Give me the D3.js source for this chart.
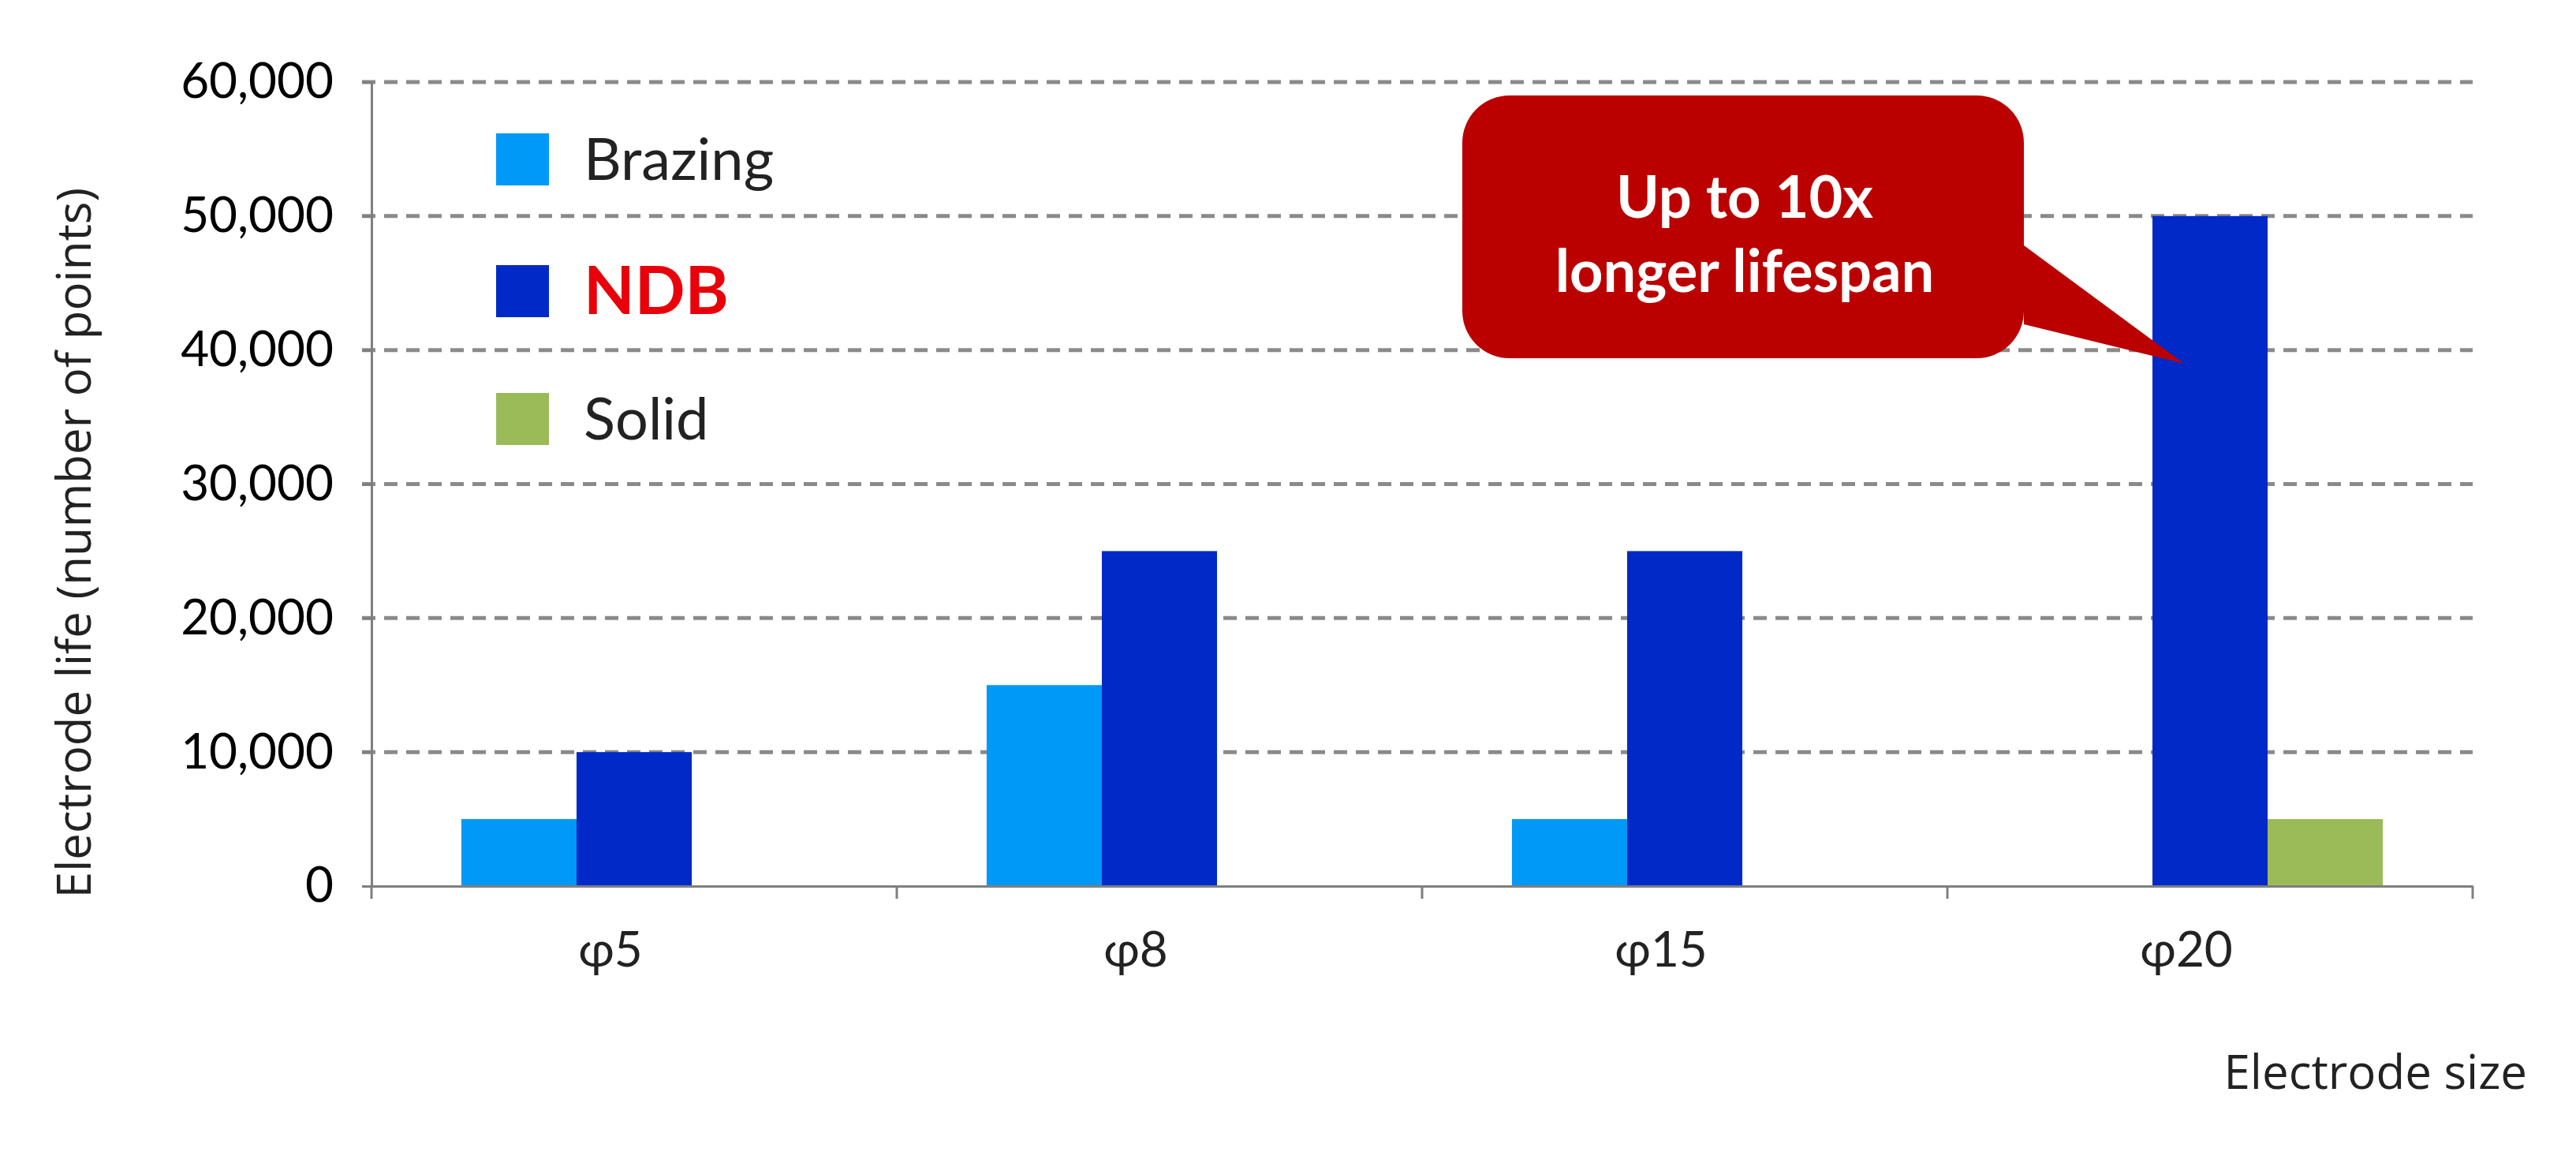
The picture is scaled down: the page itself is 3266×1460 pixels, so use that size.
<!DOCTYPE html>
<html><head><meta charset="utf-8">
<script src="https://cdn.jsdelivr.net/npm/d3@7"></script>
<style>body{margin:0;background:#fff}</style>
</head><body>
<svg id="chart" width="3266" height="1460"></svg>
<script>
// data
const sizes = ["φ5", "φ8", "φ15", "φ20"];
const seriesNames = ["Brazing", "NDB", "Solid"];
const brazing = [5000, 15000, 5000, 0];
const ndb = [10000, 25000, 25000, 50000];
const solid = [0, 0, 0, 5000];
const yTicks = [0, 10000, 20000, 30000, 40000, 50000, 60000];
const colors = ["#0099f7", "#0029c8", "#9bbb59"];

const svg = d3.select("#chart");
const plotLeft = 471, plotRight = 3135, plotTop = 104, plotBottom = 1123;

const x = d3.scaleBand().domain(sizes).range([plotLeft, plotRight]).paddingInner(0).paddingOuter(0);
const xs = d3.scaleBand().domain(seriesNames).range([0, x.bandwidth()]).paddingInner(0).paddingOuter(0.78);
const y = d3.scaleLinear().domain([0, 60000]).range([plotBottom, plotTop]);

// grid lines
svg.append("g").selectAll("line").data(yTicks.filter(d => d > 0)).join("line")
  .attr("x1", plotLeft - 12).attr("x2", plotRight)
  .attr("y1", d => y(d)).attr("y2", d => y(d))
  .attr("stroke", "#8a8a8a").attr("stroke-width", 5).attr("stroke-dasharray", "17,11");

// bars
const rows = sizes.map((s, i) => ({size: s, vals: [brazing[i], ndb[i], solid[i]]}));
const g = svg.append("g").selectAll("g").data(rows).join("g")
  .attr("transform", d => `translate(${x(d.size)},0)`);
g.selectAll("rect").data(d => d.vals.map((v, j) => ({v, name: seriesNames[j], j})))
  .join("rect")
  .attr("x", d => xs(d.name)).attr("width", xs.bandwidth())
  .attr("y", d => y(d.v)).attr("height", d => plotBottom - y(d.v))
  .attr("fill", d => colors[d.j]);

// y axis
const ya = svg.append("g").attr("transform", `translate(${plotLeft},0)`)
  .call(d3.axisLeft(y).tickValues(yTicks).tickFormat(d3.format(",")).tickSize(12).tickPadding(36));
ya.select(".domain").attr("stroke", "#7f7f7f").attr("stroke-width", 3);
ya.selectAll(".tick line").attr("stroke", "#7f7f7f").attr("stroke-width", 3);
ya.selectAll("text").attr("font-family", "Lato").attr("font-size", 62).attr("fill", "#000");

// x axis
const xa = svg.append("g").attr("transform", `translate(0,${plotBottom})`)
  .call(d3.axisBottom(x).tickSize(0).tickPadding(58));
xa.select(".domain").attr("stroke", "#7f7f7f").attr("stroke-width", 3);
xa.selectAll("text").attr("font-family", "Lato").attr("font-size", 62).attr("fill", "#222").attr("dx", -30);
svg.append("g").selectAll("line").data(d3.range(sizes.length + 1)).join("line")
  .attr("x1", i => plotLeft + i * x.step()).attr("x2", i => plotLeft + i * x.step())
  .attr("y1", plotBottom).attr("y2", plotBottom + 16)
  .attr("stroke", "#7f7f7f").attr("stroke-width", 3);

// axis titles
svg.append("text").attr("transform", "translate(94,688) rotate(-90)")
  .attr("text-anchor", "middle").attr("dy", "0.35em")
  .attr("font-family", "Open Sans").attr("font-size", 60).attr("fill", "#222")
  .text("Electrode life (number of points)");
svg.append("text").attr("x", 3204).attr("y", 1380).attr("text-anchor", "end")
  .attr("font-family", "Open Sans").attr("font-size", 60).attr("fill", "#222")
  .text("Electrode size");

// legend
const legY = [202, 369, 531];
seriesNames.forEach((n, i) => {
  svg.append("rect").attr("x", 629).attr("y", legY[i] - 33).attr("width", 67).attr("height", 66).attr("fill", colors[i]);
  svg.append("text").attr("x", 740).attr("y", legY[i]).attr("dy", "0.35em")
    .attr("font-family", "Lato").attr("font-size", n === "NDB" ? 84 : 74)
    .attr("font-weight", n === "NDB" ? "bold" : "normal")
    .attr("fill", n === "NDB" ? "#e8000b" : "#222").text(n);
});

// callout
const bx0 = 1854, bx1 = 2566, by0 = 121, by1 = 454, r = 60;
const tip = [x("φ20") + xs("NDB") + 40, y(39000)];
const p = d3.path();
p.moveTo(bx0 + r, by0); p.lineTo(bx1 - r, by0); p.arcTo(bx1, by0, bx1, by0 + r, r);
p.lineTo(bx1, by0 + 190); p.lineTo(tip[0], tip[1]); p.lineTo(bx1, by0 + 290);
p.lineTo(bx1, by1 - r); p.arcTo(bx1, by1, bx1 - r, by1, r);
p.lineTo(bx0 + r, by1); p.arcTo(bx0, by1, bx0, by1 - r, r);
p.lineTo(bx0, by0 + r); p.arcTo(bx0, by0, bx0 + r, by0, r); p.closePath();
svg.append("path").attr("d", p.toString()).attr("fill", "#bb0000");
["Up to 10x", "longer lifespan"].forEach((t, i) => {
  svg.append("text").attr("x", 2212).attr("y", 276 + i * 94).attr("text-anchor", "middle")
    .attr("font-family", "Lato").attr("font-weight", "bold").attr("font-size", 74)
    .attr("fill", "#fff").text(t);
});
</script>
</body></html>
